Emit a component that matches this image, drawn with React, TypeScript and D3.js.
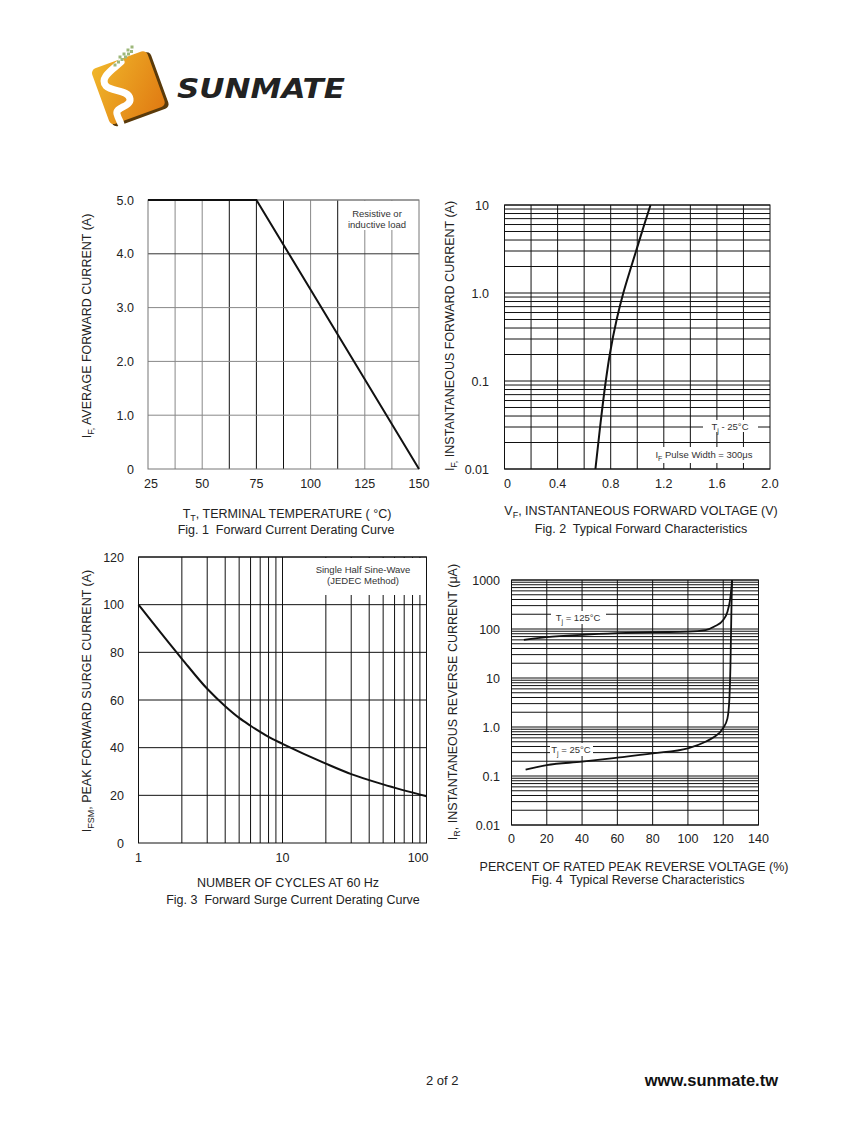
import React from "react";
import * as d3 from "d3";

// ---------- DATA ----------
// Fig. 1 Forward current derating
const fig1Temp = [25, 75, 150];
const fig1Current = [5, 5, 0];
const fig1XTicks = [25, 50, 75, 100, 125, 150];
const fig1YTicks = [0, 1, 2, 3, 4, 5];
const fig1YLabels = ["0", "1.0", "2.0", "3.0", "4.0", "5.0"];
const fig1VGrid = [37.5, 50, 62.5, 75, 87.5, 100, 112.5, 125, 137.5];
const fig1DarkV = [62.5, 75, 87.5, 112.5];

// Fig. 2 Typical forward characteristics
const fig2Voltage = [0.685, 0.72, 0.763, 0.793, 0.845, 0.895, 0.955, 1.005, 1.053, 1.1];
const fig2Current = [0.01, 0.03, 0.1, 0.2, 0.5, 1.0, 2.0, 3.5, 6.0, 10];
const fig2XTicks = [0, 0.4, 0.8, 1.2, 1.6, 2.0];
const fig2XLabels = ["0", "0.4", "0.8", "1.2", "1.6", "2.0"];
const fig2VGrid = [0.2, 0.4, 0.6, 0.8, 1.0, 1.2, 1.4, 1.6, 1.8];
const fig2YTicks = [0.01, 0.1, 1, 10];
const fig2YLabels = ["0.01", "0.1", "1.0", "10"];
const fig2Decades = [0.01, 0.1, 1];

// Fig. 3 Forward surge current derating
const fig3Cycles = [1, 2, 3, 4, 5, 6, 7, 8, 10, 20, 30, 50, 100];
const fig3Current = [100, 77.3, 64.7, 57.4, 52.5, 49.2, 46.6, 44.5, 41.6, 33.3, 28.9, 24.6, 19.6];
const fig3XTicks = [1, 10, 100];
const fig3XLabels = ["1", "10", "100"];
const fig3YTicks = [0, 20, 40, 60, 80, 100, 120];
const fig3Decades = [1, 10];

// Fig. 4 Typical reverse characteristics
const fig4Pct125 = [7, 20, 40, 60, 80, 100, 110, 115, 120, 122.4, 124, 124.8, 125];
const fig4Ir125 = [60, 68, 76, 82, 86, 88, 95, 112, 153, 226, 423, 800, 1000];
const fig4Pct25 = [8, 20, 40, 60, 80, 100, 110, 115, 119.8, 122.4, 123.5, 124.1, 124.6, 125];
const fig4Ir25 = [0.135, 0.167, 0.196, 0.237, 0.29, 0.367, 0.5, 0.63, 0.93, 1.5, 3.8, 18, 194, 1000];
const fig4XTicks = [0, 20, 40, 60, 80, 100, 120, 140];
const fig4YTicks = [0.01, 0.1, 1, 10, 100, 1000];
const fig4YLabels = ["0.01", "0.1", "1.0", "10", "100", "1000"];
const fig4Decades = [0.01, 0.1, 1, 10, 100];

const FONT = "'Liberation Sans', Arial, Helvetica, sans-serif";
const TXT = "#222";
const PRE = { whiteSpace: "pre" as const };

function minorLines(decades: number[], top: number) {
  const out: number[] = [];
  decades.forEach((d) => {
    for (let k = 1; k <= 9; k++) out.push(d * k);
  });
  out.push(top);
  return out;
}

function YTitle({ x, y, main, sub, rest }: { x: number; y: number; main: string; sub: string; rest: string }) {
  return (
    <text transform={`translate(${x},${y}) rotate(-90)`} textAnchor="middle" fontSize={12.5} fill={TXT}>
      {main}
      <tspan fontSize={9} dy={3}>{sub}</tspan>
      <tspan dy={-3}>{rest}</tspan>
    </text>
  );
}

function Fig1() {
  const x = d3.scaleLinear().domain([25, 150]).range([148, 419]);
  const y = d3.scaleLinear().domain([0, 5]).range([469, 200]);
  const line = d3.line<number>().x((d, i) => x(fig1Temp[i])).y((d) => y(d));
  return (
    <g>
      {fig1VGrid.map((v) => (
        <line key={"v" + v} x1={x(v)} x2={x(v)} y1={y(0)} y2={y(5)}
          stroke={fig1DarkV.includes(v) ? "#111" : "#888"} strokeWidth={1} />
      ))}
      {fig1YTicks.slice(1).map((v) => (
        <line key={"h" + v} x1={x(25)} x2={x(150)} y1={y(v)} y2={y(v)} stroke={v === 4 ? "#333" : "#888"} />
      ))}
      <rect x={343} y={201} width={70} height={29} fill="#fff" />
      <rect x={x(25)} y={y(5)} width={x(150) - x(25)} height={y(0) - y(5)} fill="none" stroke="#777" />
      <path d={line(fig1Current) || ""} fill="none" stroke="#111" strokeWidth={2} />
      <text x={377} y={217} textAnchor="middle" fontSize={9.5} fill="#333">Resistive or</text>
      <text x={377} y={228} textAnchor="middle" fontSize={9.5} fill="#333">inductive load</text>
      {fig1YTicks.map((v, i) => (
        <text key={"yl" + v} x={134} y={y(v) + 4.5} textAnchor="end" fontSize={12.5} fill={TXT}>{fig1YLabels[i]}</text>
      ))}
      {fig1XTicks.map((v) => (
        <text key={"xl" + v} x={x(v) + (v === 25 ? 3 : 0)} y={488} textAnchor="middle" fontSize={12.5} fill={TXT}>{v}</text>
      ))}
      <text x={287} y={518} textAnchor="middle" fontSize={12.5} fill={TXT} style={PRE}>
        T<tspan fontSize={9} dy={3}>T</tspan><tspan dy={-3}>, TERMINAL TEMPERATURE ( °C)</tspan>
      </text>
      <text x={286} y={534} textAnchor="middle" fontSize={12.5} fill={TXT} style={PRE}>Fig. 1  Forward Current Derating Curve</text>
      <YTitle x={91} y={326} main="I" sub="F," rest=" AVERAGE FORWARD CURRENT (A)" />
    </g>
  );
}

function Fig2() {
  const x = d3.scaleLinear().domain([0, 2]).range([504.5, 770]);
  const y = d3.scaleLog().domain([0.01, 10]).range([469, 205]);
  const line = d3.line<number>().x((d, i) => x(fig2Voltage[i])).y((d) => y(d)).curve(d3.curveMonotoneY);
  const hLines = minorLines(fig2Decades, 10);
  return (
    <g>
      {fig2VGrid.map((v) => (
        <line key={"v" + v} x1={x(v)} x2={x(v)} y1={y(0.01)} y2={y(10)} stroke="#111" />
      ))}
      {hLines.map((v, i) => (
        <line key={"h" + i} x1={x(0)} x2={x(2)} y1={y(v)} y2={y(v)} stroke="#111" />
      ))}
      <rect x={703} y={420} width={55} height={12} fill="#fff" />
      <rect x={651} y={447} width={106} height={16} fill="#fff" />
      <rect x={x(0)} y={y(10)} width={x(2) - x(0)} height={y(0.01) - y(10)} fill="none" stroke="#111" />
      <path d={line(fig2Current) || ""} fill="none" stroke="#111" strokeWidth={2} />
      <text x={730} y={430} textAnchor="middle" fontSize={9.5} fill="#333">
        T<tspan fontSize={7} dy={2.5}>j</tspan><tspan dy={-2.5}> - 25°C</tspan>
      </text>
      <text x={704} y={458} textAnchor="middle" fontSize={9.5} fill="#333">
        I<tspan fontSize={7} dy={2.5}>F</tspan><tspan dy={-2.5}> Pulse Width = 300μs</tspan>
      </text>
      {fig2YTicks.map((v, i) => (
        <text key={"yl" + v} x={489} y={y(v) + 4.5} textAnchor="end" fontSize={12.5} fill={TXT}>{fig2YLabels[i]}</text>
      ))}
      {fig2XTicks.map((v, i) => (
        <text key={"xl" + v} x={x(v) + (v === 0 ? 3 : 0)} y={488} textAnchor="middle" fontSize={12.5} fill={TXT}>{fig2XLabels[i]}</text>
      ))}
      <text x={641} y={515} textAnchor="middle" fontSize={12.5} fill={TXT}>
        V<tspan fontSize={9} dy={3}>F</tspan><tspan dy={-3}>, INSTANTANEOUS FORWARD VOLTAGE (V)</tspan>
      </text>
      <text x={641} y={533} textAnchor="middle" fontSize={12.5} fill={TXT} style={PRE}>Fig. 2  Typical Forward Characteristics</text>
      <YTitle x={454} y={336} main="I" sub="F," rest=" INSTANTANEOUS FORWARD CURRENT (A)" />
    </g>
  );
}

function Fig3() {
  const x = d3.scaleLog().domain([1, 100]).range([138.5, 426.5]);
  const y = d3.scaleLinear().domain([0, 120]).range([843, 557]);
  const line = d3.line<number>().x((d, i) => x(fig3Cycles[i])).y((d) => y(d)).curve(d3.curveMonotoneX);
  const vLines = minorLines(fig3Decades, 100).filter((v) => v > 1);
  return (
    <g>
      {vLines.map((v) => (
        <line key={"v" + v} x1={x(v)} x2={x(v)} y1={y(0)} y2={y(120)} stroke="#111" />
      ))}
      {fig3YTicks.slice(1).map((v) => (
        <line key={"h" + v} x1={x(1)} x2={x(100)} y1={y(v)} y2={y(v)} stroke="#111" />
      ))}
      <rect x={313} y={558} width={112} height={37} fill="#fff" />
      <rect x={x(1)} y={y(120)} width={x(100) - x(1)} height={y(0) - y(120)} fill="none" stroke="#111" />
      <path d={line(fig3Current) || ""} fill="none" stroke="#111" strokeWidth={2} />
      <text x={363} y={573} textAnchor="middle" fontSize={9.5} fill="#333">Single Half Sine-Wave</text>
      <text x={363} y={584} textAnchor="middle" fontSize={9.5} fill="#333">(JEDEC Method)</text>
      {fig3YTicks.map((v) => (
        <text key={"yl" + v} x={124} y={y(v) + 4.5} textAnchor="end" fontSize={12.5} fill={TXT}>{v}</text>
      ))}
      {fig3XTicks.map((v, i) => (
        <text key={"xl" + v} x={i === fig3XTicks.length - 1 ? x(v) + 2 : x(v)} y={862}
          textAnchor={i === fig3XTicks.length - 1 ? "end" : "middle"} fontSize={12.5} fill={TXT}>{fig3XLabels[i]}</text>
      ))}
      <text x={288} y={887} textAnchor="middle" fontSize={12.5} fill={TXT}>NUMBER OF CYCLES AT 60 Hz</text>
      <text x={293} y={904} textAnchor="middle" fontSize={12.5} fill={TXT} style={PRE}>Fig. 3  Forward Surge Current Derating Curve</text>
      <YTitle x={91} y={701} main="I" sub="FSM" rest=", PEAK FORWARD SURGE CURRENT (A)" />
    </g>
  );
}

function Fig4() {
  const x = d3.scaleLinear().domain([0, 140]).range([511.5, 758.5]);
  const y = d3.scaleLog().domain([0.01, 1000]).range([825, 580]);
  const line125 = d3.line<number>().x((d, i) => x(fig4Pct125[i])).y((d) => y(d)).curve(d3.curveMonotoneX);
  const line25 = d3.line<number>().x((d, i) => x(fig4Pct25[i])).y((d) => y(d)).curve(d3.curveMonotoneX);
  const hLines = minorLines(fig4Decades, 1000);
  return (
    <g>
      {fig4XTicks.slice(1).map((v) => (
        <line key={"v" + v} x1={x(v)} x2={x(v)} y1={y(0.01)} y2={y(1000)} stroke="#111" />
      ))}
      {hLines.map((v, i) => (
        <line key={"h" + i} x1={x(0)} x2={x(140)} y1={y(v)} y2={y(v)} stroke="#111" />
      ))}
      <rect x={551} y={611} width={55} height={13} fill="#fff" />
      <rect x={550} y={743} width={43} height={13} fill="#fff" />
      <rect x={x(0)} y={y(1000)} width={x(140) - x(0)} height={y(0.01) - y(1000)} fill="none" stroke="#111" />
      <path d={line125(fig4Ir125) || ""} fill="none" stroke="#111" strokeWidth={1.8} />
      <path d={line25(fig4Ir25) || ""} fill="none" stroke="#111" strokeWidth={1.8} />
      <text x={578} y={621} textAnchor="middle" fontSize={9.5} fill="#333">
        T<tspan fontSize={7} dy={2.5}>j</tspan><tspan dy={-2.5}> = 125°C</tspan>
      </text>
      <text x={571} y={753} textAnchor="middle" fontSize={9.5} fill="#333">
        T<tspan fontSize={7} dy={2.5}>j</tspan><tspan dy={-2.5}> = 25°C</tspan>
      </text>
      {fig4YTicks.map((v, i) => (
        <text key={"yl" + v} x={500} y={y(v) + 4.5} textAnchor="end" fontSize={12.5} fill={TXT}>{fig4YLabels[i]}</text>
      ))}
      {fig4XTicks.map((v) => (
        <text key={"xl" + v} x={x(v)} y={843} textAnchor="middle" fontSize={12.5} fill={TXT}>{v}</text>
      ))}
      <text x={634} y={871} textAnchor="middle" fontSize={12.5} fill={TXT}>PERCENT OF RATED PEAK REVERSE VOLTAGE (%)</text>
      <text x={638} y={884} textAnchor="middle" fontSize={12.5} fill={TXT} style={PRE}>Fig. 4  Typical Reverse Characteristics</text>
      <YTitle x={457} y={702} main="I" sub="R" rest=", INSTANTANEOUS REVERSE CURRENT (μA)" />
    </g>
  );
}

function Logo() {
  const dots = [[115, 65], [118.5, 62], [122, 59.5], [125.5, 57], [128.5, 54], [131.5, 51.5], [128, 50], [132, 47], [124, 54], [120, 57]];
  return (
    <g>
      <defs>
        <linearGradient id="lg" x1="0" y1="0" x2="1" y2="1">
          <stop offset="0" stopColor="#f0b62a" />
          <stop offset="1" stopColor="#e07a12" />
        </linearGradient>
      </defs>
      <g transform="translate(129,88) rotate(-20)">
        <rect x={-28} y={-28} width={60} height={60} rx={5} fill="#5a3a0a" />
        <rect x={-30} y={-30} width={59} height={59} rx={5} fill="url(#lg)" />
      </g>
      <path d="M 121,62 C 112,70 99,78 106,86 C 112,92 129,90 130,99 C 131,107 115,107 117,114 C 118,118 120,121 121,124"
        fill="none" stroke="#fff" strokeWidth={7} strokeLinecap="round" />
      {dots.map((d, i) => (
        <rect key={i} x={d[0] - 1.5} y={d[1] - 1.5} width={3} height={3} fill="#9db77a" />
      ))}
      <text x={177} y={98} fontFamily="'DejaVu Sans', sans-serif" fontWeight={900} fontStyle="italic"
        fontSize={26} textLength={168} lengthAdjust="spacingAndGlyphs" fill="#222">SUNMATE</text>
    </g>
  );
}

export default function App() {
  return (
    <svg width={847} height={1125} style={{ position: "absolute", left: 0, top: 0, background: "#fff" }}
      fontFamily={FONT}>
      <rect width={847} height={1125} fill="#fff" />
      <Logo />
      <Fig1 />
      <Fig2 />
      <Fig3 />
      <Fig4 />
      <text x={426} y={1085} fontSize={13} fill={TXT}>2 of 2</text>
      <text x={778} y={1086} textAnchor="end" fontSize={16.5} fontWeight="bold" fill="#111">www.sunmate.tw</text>
    </svg>
  );
}
